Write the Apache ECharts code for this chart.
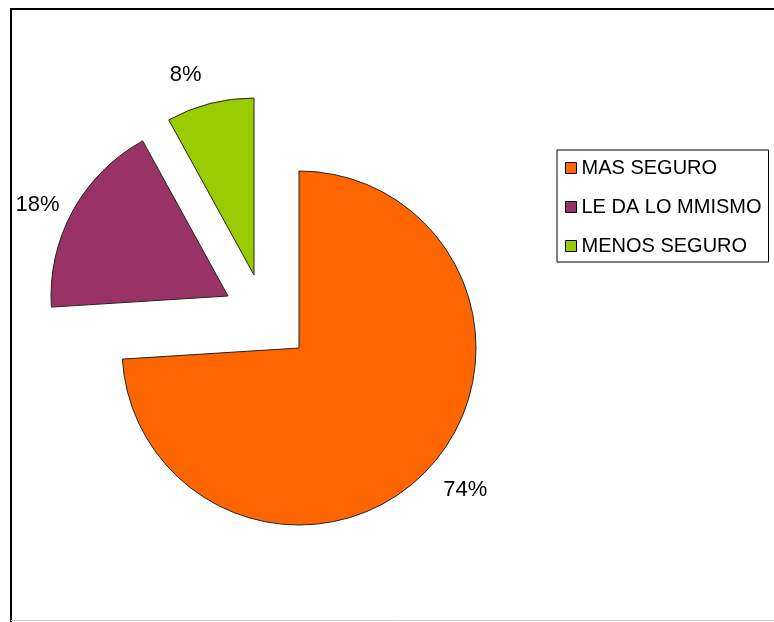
<!DOCTYPE html>
<html>
<head>
<meta charset="utf-8">
<script src="https://cdn.jsdelivr.net/npm/echarts@6/dist/echarts.min.js"></script>
<style>
html,body{margin:0;padding:0;background:#fff;}
#chart{width:774px;height:622px;}
</style>
</head>
<body>
<div id="chart"></div>
<script>
// ---- data ----
const categories = ['MAS SEGURO', 'LE DA LO MMISMO', 'MENOS SEGURO'];
const values = [74, 18, 8];

// ---- styling / layout (kept apart from data) ----
const colors = ['#FF6600', '#993366', '#99CC00'];
const baseCenter = [299, 348];
const explodeOffsets = [[0, 0], [-71, -52], [-45, -73]];
const labelLineLen = [25, 13, 30];
const labelNudge = [[-8, 4], [3, 0], [4, 0]];
const radius = 177;
const fontFamily = '"Liberation Sans", Arial, sans-serif';

const chart = echarts.init(document.getElementById('chart'), null, {renderer: 'canvas'});

const series = categories.map((cat, i) => ({
  type: 'pie',
  name: cat,
  center: [baseCenter[0] + explodeOffsets[i][0], baseCenter[1] + explodeOffsets[i][1]],
  radius: radius,
  startAngle: 90,
  clockwise: true,
  avoidLabelOverlap: false,
  silent: true,
  animation: false,
  emphasis: {disabled: true},
  labelLayout: function () { return {dx: labelNudge[i][0], dy: labelNudge[i][1]}; },
  label: {
    show: true,
    position: 'outside',
    formatter: '{d}%',
    color: '#000',
    fontFamily: fontFamily,
    fontSize: 22,
    distanceToLabelLine: 5
  },
  labelLine: {show: false, length: labelLineLen[i], length2: 0},
  data: values.map((v, j) => ({
    name: categories[j],
    value: v,
    itemStyle: j === i
      ? {color: colors[j], borderColor: '#222', borderWidth: 1}
      : {color: 'rgba(0,0,0,0)', borderWidth: 0},
    label: {show: j === i}
  }))
}));

chart.setOption({
  backgroundColor: '#fff',
  animation: false,
  graphic: [
    {type: 'line', shape: {x1: 11, y1: 9, x2: 774, y2: 9}, style: {stroke: '#000', lineWidth: 2}, silent: true},
    {type: 'line', shape: {x1: 11, y1: 8, x2: 11, y2: 622}, style: {stroke: '#000', lineWidth: 2}, silent: true},
    {type: 'line', shape: {x1: 11, y1: 620.5, x2: 774, y2: 620.5}, style: {stroke: '#ccc', lineWidth: 1}, silent: true}
  ],
  legend: {
    orient: 'vertical',
    left: 557,
    top: 150,
    selectedMode: false,
    icon: 'rect',
    itemWidth: 11,
    itemHeight: 11,
    itemGap: 19,
    padding: [8, 7, 6, 8],
    borderColor: '#000',
    borderWidth: 1,
    backgroundColor: '#fff',
    textStyle: {color: '#000', fontFamily: fontFamily, fontSize: 20, lineHeight: 20},
    data: categories.map((c, j) => ({
      name: c,
      itemStyle: {color: colors[j], borderColor: '#000', borderWidth: 1}
    }))
  },
  series: series
});
</script>
</body>
</html>
